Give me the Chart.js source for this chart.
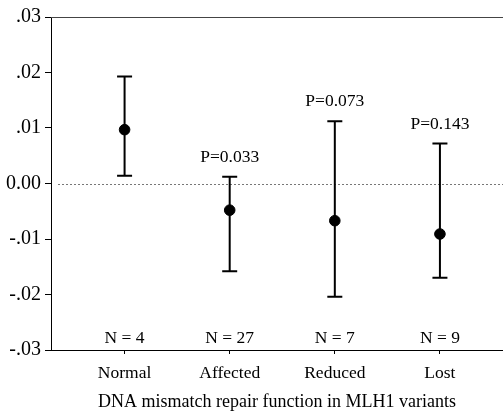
<!DOCTYPE html>
<html>
<head>
<meta charset="utf-8">
<script src="https://cdn.jsdelivr.net/npm/chart.js@4.4.0/dist/chart.umd.min.js"></script>
<style>
  body { margin: 0; background: #fff; }
  #wrap { width: 503px; height: 415px; }
</style>
</head>
<body>
<div id="wrap"><canvas id="c" width="503" height="415"></canvas></div>
<script>
// values
var categories = ['Normal', 'Affected', 'Reduced', 'Lost'];
var means = [0.0097, -0.0048, -0.0067, -0.0091];
var upper = [0.0193, 0.0012, 0.0112, 0.0072];
var lower = [0.0014, -0.0158, -0.0204, -0.0170];
var pLabels = ['', 'P=0.033', 'P=0.073', 'P=0.143'];
var nLabels = ['N = 4', 'N = 27', 'N = 7', 'N = 9'];
var yTickText = ['-.03', '-.02', '-.01', '0.00', '.01', '.02', '.03'];
var xTitle = 'DNA mismatch repair function in MLH1 variants';

var FONT = '"Liberation Serif", "Times New Roman", serif';

var points = means.map(function (m, i) { return { x: i + 1, y: m }; });

var errorBars = {
  id: 'errorBars',
  beforeDatasetsDraw: function (chart) {
    var ctx = chart.ctx, xs = chart.scales.x, ys = chart.scales.y, a = chart.chartArea;
    ctx.save();
    // dotted zero line
    var y0 = Math.round(ys.getPixelForValue(0)) + 0.5;
    ctx.strokeStyle = '#777';
    ctx.lineWidth = 1;
    ctx.setLineDash([2, 2]);
    ctx.beginPath();
    ctx.moveTo(a.left + 7, y0);
    ctx.lineTo(a.right, y0);
    ctx.stroke();
    ctx.setLineDash([]);

    // top frame line
    ctx.strokeStyle = '#444';
    ctx.beginPath();
    ctx.moveTo(a.left, a.top + 0.5);
    ctx.lineTo(a.right, a.top + 0.5);
    ctx.stroke();

    // error bars
    ctx.strokeStyle = '#000';
    ctx.lineWidth = 2;
    for (var i = 0; i < categories.length; i++) {
      var x = xs.getPixelForValue(i + 1);
      var yu = ys.getPixelForValue(upper[i]);
      var yl = ys.getPixelForValue(lower[i]);
      ctx.beginPath();
      ctx.moveTo(x, yu); ctx.lineTo(x, yl);
      ctx.moveTo(x - 7.5, yu); ctx.lineTo(x + 7.5, yu);
      ctx.moveTo(x - 7.5, yl); ctx.lineTo(x + 7.5, yl);
      ctx.stroke();
    }
    ctx.restore();
  },
  afterDatasetsDraw: function (chart) {
    var ctx = chart.ctx, xs = chart.scales.x, ys = chart.scales.y, a = chart.chartArea;
    ctx.save();
    ctx.fillStyle = '#000';
    ctx.font = '17.5px ' + FONT;
    ctx.textAlign = 'center';
    ctx.textBaseline = 'alphabetic';
    for (var i = 0; i < categories.length; i++) {
      var x = xs.getPixelForValue(i + 1);
      if (pLabels[i]) ctx.fillText(pLabels[i], x, ys.getPixelForValue(upper[i]) - 15);
      ctx.fillText(nLabels[i], x, a.bottom - 7.5);
    }
    ctx.restore();
  }
};

new Chart(document.getElementById('c'), {
  type: 'scatter',
  data: {
    datasets: [{
      data: points,
      pointRadius: 5.3,
      pointHoverRadius: 5.3,
      pointBackgroundColor: '#000',
      pointBorderColor: '#000',
      showLine: false
    }]
  },
  options: {
    responsive: false,
    animation: false,
    events: [],
    layout: { autoPadding: false, padding: { top: 17, right: 0, left: 0, bottom: 0 } },
    plugins: { legend: { display: false }, tooltip: { enabled: false } },
    scales: {
      x: {
        type: 'linear',
        min: 0.3,
        max: 4.6,
        afterBuildTicks: function (scale) {
          scale.ticks = categories.map(function (c, i) { return { value: i + 1 }; });
        },
        afterFit: function (scale) {
          scale.height = 65;
          scale.paddingLeft = 0;
          scale.paddingRight = 0;
        },
        grid: { display: true, drawOnChartArea: false, drawTicks: true, tickLength: 4, color: '#000' },
        border: { display: true, color: '#000', width: 1 },
        ticks: {
          autoSkip: false,
          maxRotation: 0,
          padding: 9,
          color: '#000',
          font: { family: FONT, size: 17.5 },
          callback: function (v) { return categories[v - 1]; }
        },
        title: {
          display: true,
          text: xTitle,
          color: '#000',
          font: { family: FONT, size: 18 },
          padding: { top: 6, bottom: 2 }
        }
      },
      y: {
        min: -0.03,
        max: 0.03,
        afterFit: function (scale) {
          scale.width = 51;
          scale.paddingTop = 0;
          scale.paddingBottom = 0;
        },
        grid: { display: true, drawOnChartArea: false, drawTicks: true, tickLength: 6, color: '#000' },
        border: { display: true, color: '#000', width: 1 },
        ticks: {
          stepSize: 0.01,
          autoSkip: false,
          padding: 4,
          color: '#000',
          font: { family: FONT, size: 20 },
          callback: function (v, i) { return yTickText[i]; }
        }
      }
    }
  },
  plugins: [errorBars]
});
</script>
</body>
</html>
